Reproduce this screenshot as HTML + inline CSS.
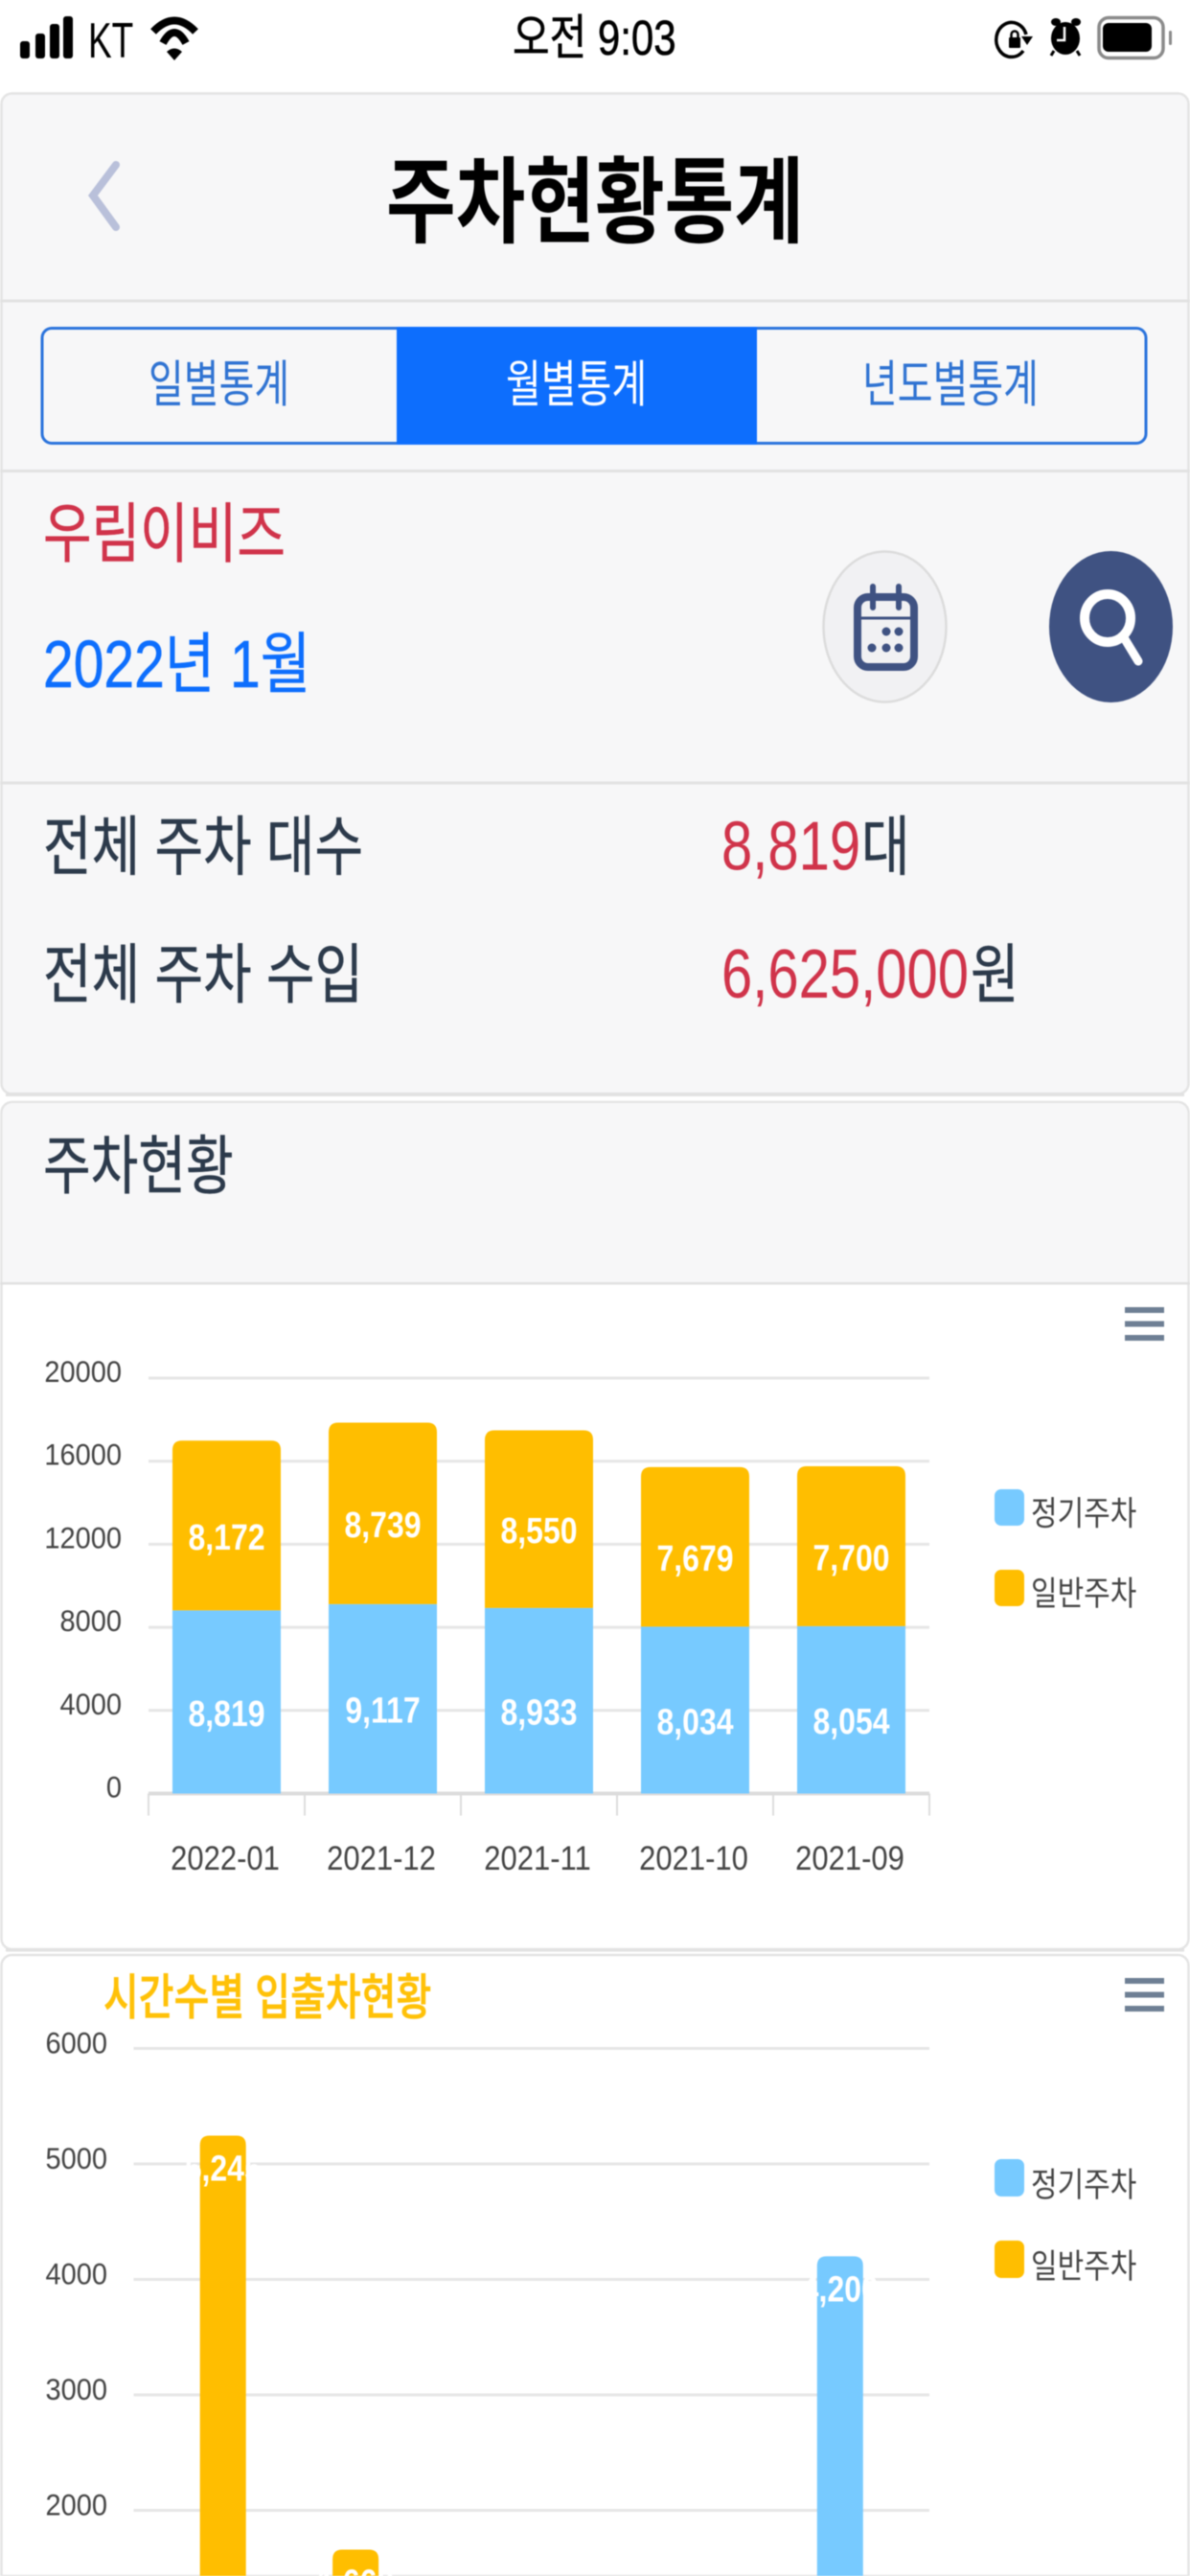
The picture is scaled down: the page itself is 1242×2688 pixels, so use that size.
<!DOCTYPE html>
<html lang="ko">
<head>
<meta charset="utf-8">
<title>주차현황통계</title>
<style>
html,body{margin:0;padding:0;background:#fff;width:1242px;height:2688px;overflow:hidden}
#frame{position:absolute;left:0;top:0;width:1242px;height:2688px;overflow:hidden}
svg{display:block;position:absolute;left:0;top:0;filter:blur(0.6px)}
text{font-family:"Liberation Sans","Noto Sans CJK KR",sans-serif}
</style>
</head>
<body>
<div id="frame">
<svg id="page" width="1242" height="2688" viewBox="0 0 1242 2688">
  <!-- status bar -->
  <g>
    <g fill="#000">
      <rect x="21" y="43" width="10" height="18" rx="3"/>
      <rect x="37" y="35" width="10" height="26" rx="3"/>
      <rect x="52" y="25" width="10" height="36" rx="3"/>
      <rect x="66" y="17" width="10" height="44" rx="3"/>
    </g>
    <text transform="translate(92,60) scale(1,1.41)" font-size="37" fill="#000">KT</text>
    <g fill="none" stroke="#000" stroke-width="8">
      <path d="M160 33 Q182 10 204 33"/>
      <path d="M170 45 Q182 23 194 45"/>
      <path d="M174 54 Q182 47 190 54 L182 63 Z" fill="#000" stroke="none"/>
    </g>
    <text transform="translate(535,57) scale(1,1.22)" font-size="42" fill="#000" stroke="#000" stroke-width="0.5">오전 9:03</text>
    <g>
      <path d="M1071 36 A16 18 0 1 0 1068 53" fill="none" stroke="#000" stroke-width="3.5"/>
      <path d="M1066 38 H1078 L1072 47 Z" fill="#000"/>
      <rect x="1053" y="39" width="12" height="11" rx="1" fill="#000"/>
      <path d="M1055.5 39 v-3 a3.5 3.5 0 0 1 7 0 v3" fill="none" stroke="#000" stroke-width="2.5"/>
    </g>
    <g>
      <ellipse cx="1112" cy="40" rx="15" ry="17" fill="#000"/>
      <ellipse cx="1102" cy="23" rx="5" ry="4" fill="#000"/>
      <ellipse cx="1123" cy="23" rx="5" ry="4" fill="#000"/>
      <path d="M1100 53 L1097 58 M1124 53 L1127 58" stroke="#000" stroke-width="3"/>
      <path d="M1111 28 V42 H1103" fill="none" stroke="#fff" stroke-width="2.5"/>
    </g>
    <g>
      <rect x="1147" y="18.5" width="67" height="42" rx="10" fill="#fff" stroke="#8a8a8a" stroke-width="3.5"/>
      <rect x="1151" y="24" width="51" height="30" rx="6" fill="#000"/>
      <rect x="1220" y="32" width="3" height="15" rx="1.5" fill="#8a8a8a"/>
    </g>
  </g>

  <!-- summary card -->
  <rect x="1.5" y="97.5" width="1239" height="1044" rx="11" fill="#f7f7f8" stroke="#e4e4e4" stroke-width="2.5"/>
  <rect x="6" y="1140" width="1230" height="4" fill="#e2e2e2"/>
  <path d="M121 172 L97 204 L121 237" fill="none" stroke="#b9c0da" stroke-width="8" stroke-linecap="round" stroke-linejoin="miter"/>
  <text transform="translate(403,245) scale(1,1.24)" font-size="79" font-weight="700" fill="#000">주차현황통계</text>
  <rect x="0" y="312.5" width="1242" height="3" fill="#e2e2e2"/>

  <g>
    <rect x="44" y="342.5" width="1152" height="120" rx="10" fill="#f7f7f8" stroke="#2a73dc" stroke-width="3"/>
    <rect x="414" y="341" width="376" height="123" fill="#0d6efd"/>
    <text transform="translate(155,419) scale(1,1.31)" font-size="40" fill="#2f73d2">일별통계</text>
    <text transform="translate(528,419) scale(1,1.31)" font-size="40" fill="#fff">월별통계</text>
    <text transform="translate(900,419) scale(1,1.31)" font-size="40" fill="#2f73d2">년도별통계</text>
  </g>
  <rect x="0" y="490" width="1242" height="3" fill="#e2e2e2"/>

  <text transform="translate(45,581) scale(1,1.24)" font-size="55" fill="#d0334a" stroke="#d0334a" stroke-width="0.4">우림이비즈</text>
  <text transform="translate(45,717) scale(1,1.22)" font-size="57" fill="#0d6efd" stroke="#0d6efd" stroke-width="0.4">2022년 1월</text>

  <g>
    <ellipse cx="923.5" cy="654" rx="64" ry="78.5" fill="#f1f1f3" stroke="#dcdcdc" stroke-width="2.5"/>
    <rect x="895" y="623" width="59" height="73" rx="11" fill="none" stroke="#3f5282" stroke-width="8"/>
    <path d="M895 645 H954" stroke="#3f5282" stroke-width="3"/>
    <path d="M911 612 V634 M938 612 V634" stroke="#3f5282" stroke-width="6" stroke-linecap="round"/>
    <g fill="#3f5282">
      <circle cx="925" cy="659" r="4.5"/><circle cx="938" cy="659" r="4.5"/>
      <circle cx="910" cy="676" r="4.5"/><circle cx="925" cy="676" r="4.5"/><circle cx="938" cy="676" r="4.5"/>
    </g>
  </g>
  <g>
    <ellipse cx="1159.5" cy="654" rx="64.5" ry="79" fill="#3f5282"/>
    <ellipse cx="1156" cy="645" rx="24" ry="25" fill="none" stroke="#fff" stroke-width="10"/>
    <path d="M1174 667 L1188 690" stroke="#fff" stroke-width="9" stroke-linecap="round"/>
  </g>
  <rect x="0" y="815.5" width="1242" height="3" fill="#e2e2e2"/>

  <text transform="translate(45,907.5) scale(1,1.24)" font-size="55" fill="#2c3a4b" stroke="#2c3a4b" stroke-width="0.4">전체 주차 대수</text>
  <text transform="translate(753,907.5) scale(1,1.25)" font-size="58" fill="#d0334a">8,819</text>
  <text transform="translate(899,907.5) scale(1,1.24)" font-size="55" fill="#2c3a4b" stroke="#2c3a4b" stroke-width="0.4">대</text>
  <text transform="translate(45,1041) scale(1,1.24)" font-size="55" fill="#2c3a4b" stroke="#2c3a4b" stroke-width="0.4">전체 주차 수입</text>
  <text transform="translate(753,1041) scale(1,1.25)" font-size="58" fill="#d0334a">6,625,000</text>
  <text transform="translate(1013,1041) scale(1,1.24)" font-size="55" fill="#2c3a4b" stroke="#2c3a4b" stroke-width="0.4">원</text>

  <!-- monthly chart card -->
  <rect x="1.5" y="1150" width="1239" height="884" rx="11" fill="#fff" stroke="#e4e4e4" stroke-width="2.5"/>
  <rect x="6" y="2033" width="1230" height="3.5" fill="#e2e2e2"/>
  <path d="M2.5 1339 V1162 a11 11 0 0 1 11 -11 H1228.5 a11 11 0 0 1 11 11 V1339 Z" fill="#f7f7f8"/>
  <rect x="0" y="1338" width="1242" height="2.5" fill="#e0e0e0"/>
  <text transform="translate(45,1240) scale(1,1.24)" font-size="54" fill="#2c3a4b" stroke="#2c3a4b" stroke-width="0.4">주차현황</text>
  <path d="M1174 1367 H1215 M1174 1381.5 H1215 M1174 1396 H1215" stroke="#6e7f94" stroke-width="6"/>

  <!-- hourly chart card -->
  <path d="M1.5 2688 V2051 a11 11 0 0 1 11 -11 H1229.5 a11 11 0 0 1 11 11 V2688 Z" fill="#fff" stroke="#e4e4e4" stroke-width="2.5"/>
  <text transform="translate(108,2102) scale(1,1.28)" font-size="40" font-weight="500" fill="#ffc107" stroke="#ffc107" stroke-width="0.5">시간수별 입출차현황</text>
  <path d="M1174 2067 H1215 M1174 2081.5 H1215 M1174 2096 H1215" stroke="#6e7f94" stroke-width="6"/>

  <g id="chart1"></g>
  <g id="chart2"></g>
</svg>
</div>

<script>
// ---- monthly stacked chart data ----
const monthCategories = ['2022-01','2021-12','2021-11','2021-10','2021-09'];
const monthRegular = [8819,9117,8933,8034,8054];
const monthGeneral = [8172,8739,8550,7679,7700];
const monthTicks = [0,4000,8000,12000,16000,20000];

// ---- hourly grouped chart data (null = bar lies below the visible screen) ----
const hourCategories = ['구간1','구간2','구간3','구간4','구간5','구간6'];
const hourRegular = [null,null,null,null,null,4200];
const hourGeneral = [5245,1660,null,null,null,null];
const hourTicks = [2000,3000,4000,5000,6000];

const seriesNames = ['정기주차','일반주차'];
const BLUE = '#77caff', GOLD = '#ffbe00', GRID = '#e6e6e6', LABEL = '#444';
const NS = 'http://www.w3.org/2000/svg';
const FRAME_BOTTOM = 2688;

function make(tag, attrs, parent){
  const n = document.createElementNS(NS, tag);
  for (const k in attrs) n.setAttribute(k, attrs[k]);
  parent.appendChild(n);
  return n;
}
function fmt(v){ return v.toLocaleString('en-US'); }
function topRounded(x, w, yTop, yBottom, r){
  return 'M'+x+' '+yBottom+' V'+(yTop+r)+' Q'+x+' '+yTop+' '+(x+r)+' '+yTop+
         ' H'+(x+w-r)+' Q'+(x+w)+' '+yTop+' '+(x+w)+' '+(yTop+r)+' V'+yBottom+' Z';
}
function scaledText(parent, str, x, y, size, sy, fill, anchor, weight){
  const t = make('text', {transform:'translate('+x+','+y+') scale(1,'+sy+')','font-size':size,fill:fill,'text-anchor':anchor,'font-weight':weight}, parent);
  t.textContent = str;
  return t;
}

// ---- chart 1 ----
(function(){
  const root = document.getElementById('chart1');
  const left = 155, right = 970, y0 = 1871.5, y20k = 1438;
  const yOf = v => y0 - v * (y0 - y20k) / 20000;
  const band = (right - left) / monthCategories.length;
  const xOf = i => left + band * (i + 0.5);
  const barW = 113;

  monthTicks.forEach(function(t){
    const line = make('line', {x1:left,x2:right,y1:yOf(t),y2:yOf(t),stroke:t===0?'#dcdcdc':GRID,'stroke-width':t===0?4:3}, root);
    
    
    const lab = scaledText(root, String(t), 127, yOf(t)+4, 29, 1.1, LABEL, 'end', 400);
    
    
  });
  for (let i = 0; i <= monthCategories.length; i++){
    const tick = make('line', {x1:left+band*i,x2:left+band*i,y1:y0,y2:y0+23,stroke:'#dcdcdc','stroke-width':2}, root);
    
    
  }
  monthCategories.forEach(function(c,i){
    const cx = xOf(i), x = cx - barW/2;
    const blue = make('rect', {x:x,y:yOf(monthRegular[i]),width:barW,height:y0-yOf(monthRegular[i]),fill:BLUE}, root);
    
    
    const total = monthRegular[i] + monthGeneral[i];
    const gold = make('path', {d:topRounded(x,barW,yOf(total),yOf(monthRegular[i]),10),fill:GOLD}, root);
    
    
    const l1 = scaledText(root, fmt(monthRegular[i]), cx, yOf(monthRegular[i]/2)+25, 32, 1.2, '#fff', 'middle', 700);
    
    
    const l2 = scaledText(root, fmt(monthGeneral[i]), cx, yOf(monthRegular[i]+monthGeneral[i]/2)+25, 32, 1.2, '#fff', 'middle', 700);
    
    
    const xl = scaledText(root, c, cx-1.5, 1951, 31, 1.15, LABEL, 'middle', 400);
    
    
  });
  const legendY = [1554,1638], legendBase = [1591.5,1675];
  seriesNames.forEach(function(s,i){
    const sw = make('rect', {x:1038,y:legendY[i],width:31,height:38,rx:7,fill:i?GOLD:BLUE}, root);
    
    
    const lt = scaledText(root, s, 1076, legendBase[i], 30, 1.17, LABEL, 'start', 400);
    
    
  });
})();

// ---- chart 2 ----
(function(){
  const root = document.getElementById('chart2');
  const left = 139.5, right = 970, y6k = 2137.5, perK = 120.5;
  const y0 = y6k + 6 * perK;
  const yOf = v => y0 - v * perK / 1000;
  const band = (right - left) / hourCategories.length;
  const xOf = i => left + band * (i + 0.5);
  const barW = 48;

  hourTicks.forEach(function(t){
    const line = make('line', {x1:left,x2:right,y1:yOf(t),y2:yOf(t),stroke:GRID,'stroke-width':3}, root);
    
    
    const lab = scaledText(root, String(t), 112, yOf(t)+5, 29, 1.1, LABEL, 'end', 400);
    
    
  });
  hourCategories.forEach(function(c,i){
    const cx = xOf(i);
    if (hourRegular[i] !== null){
      const b = make('path', {d:topRounded(cx-barW,barW,yOf(hourRegular[i]),FRAME_BOTTOM,10),fill:BLUE}, root);
      
      
      const l = scaledText(root, fmt(hourRegular[i]), cx-barW/2, yOf(hourRegular[i])+47, 32, 1.2, '#fff', 'middle', 700);
      
      
    }
    if (hourGeneral[i] !== null){
      const b = make('path', {d:topRounded(cx,barW,yOf(hourGeneral[i]),FRAME_BOTTOM,10),fill:GOLD}, root);
      
      
      const l = scaledText(root, fmt(hourGeneral[i]), cx+barW/2, yOf(hourGeneral[i])+47, 32, 1.2, '#fff', 'middle', 700);
      
      
    }
  });
  const legendY = [2253,2338], legendBase = [2292,2377];
  seriesNames.forEach(function(s,i){
    const sw = make('rect', {x:1038,y:legendY[i],width:31,height:39,rx:7,fill:i?GOLD:BLUE}, root);
    
    
    const lt = scaledText(root, s, 1076, legendBase[i], 30, 1.17, LABEL, 'start', 400);
    
    
  });
})();
</script>
</body>
</html>
